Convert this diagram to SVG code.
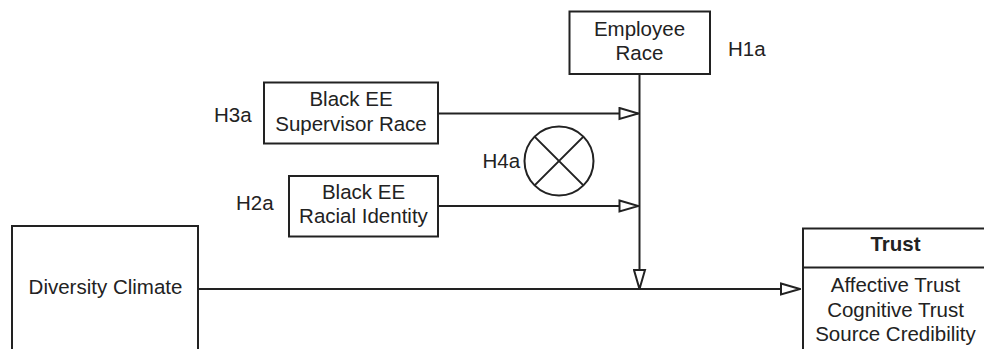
<svg xmlns="http://www.w3.org/2000/svg" width="984" height="349" viewBox="0 0 984 349">
  <style>
    .box { fill: #ffffff; stroke: #222222; stroke-width: 2; }
    .lbl { font-family: "Liberation Sans", Arial, sans-serif; font-size: 20.5px; fill: #222222; }
    .mid { text-anchor: middle; }
    .bold { font-weight: bold; }
    .edge { fill: none; stroke: #222222; stroke-width: 2; }
  </style>
  <defs>
    <marker id="openArrow" viewBox="0 0 22 14" refX="21" refY="7" markerWidth="22" markerHeight="14" markerUnits="userSpaceOnUse" orient="auto">
      <path d="M2,1.5 L21,7 L2,12.5 Z" fill="#ffffff" stroke="#222222" stroke-width="2" stroke-linejoin="miter"/>
    </marker>
  </defs>

  <!-- connectors -->
  <g id="connectors">
    <path class="edge" d="M198,289 L800,289" marker-end="url(#openArrow)"/>
    <path class="edge" d="M639.5,74 L639.5,289" marker-end="url(#openArrow)"/>
    <path class="edge" d="M438,113.5 L638.5,113.5" marker-end="url(#openArrow)"/>
    <path class="edge" d="M438,206 L638.5,206" marker-end="url(#openArrow)"/>
  </g>

  <!-- Employee Race -->
  <g id="employee-race">
    <rect class="box" x="569.5" y="11.5" width="140.5" height="62.5"/>
    <text class="lbl mid" x="639.5" y="36">Employee</text>
    <text class="lbl mid" x="639.5" y="59.5">Race</text>
    <text class="lbl" x="728" y="55.5">H1a</text>
  </g>

  <!-- Black EE Supervisor Race -->
  <g id="supervisor-race">
    <rect class="box" x="264" y="82.5" width="174" height="61"/>
    <text class="lbl mid" x="351" y="105.5">Black EE</text>
    <text class="lbl mid" x="351" y="130.5">Supervisor Race</text>
    <text class="lbl" x="214" y="121.7">H3a</text>
  </g>

  <!-- Black EE Racial Identity -->
  <g id="racial-identity">
    <rect class="box" x="289" y="176" width="149" height="60.5"/>
    <text class="lbl mid" x="363.5" y="198.5">Black EE</text>
    <text class="lbl mid" x="363.5" y="223">Racial Identity</text>
    <text class="lbl" x="236" y="210">H2a</text>
  </g>

  <!-- Interaction symbol -->
  <g id="interaction">
    <circle cx="559" cy="161" r="34.5" fill="none" stroke="#222222" stroke-width="2"/>
    <path class="edge" d="M534.6,136.6 L583.4,185.4 M583.4,136.6 L534.6,185.4"/>
    <text class="lbl" x="482.5" y="168.3">H4a</text>
  </g>

  <!-- Diversity Climate -->
  <g id="diversity-climate">
    <rect class="box" x="12" y="226" width="186" height="128"/>
    <text class="lbl mid" x="105.5" y="294">Diversity Climate</text>
  </g>

  <!-- Trust -->
  <g id="trust">
    <rect class="box" x="803" y="228.5" width="185" height="126"/>
    <line x1="803" y1="267.5" x2="988" y2="267.5" stroke="#222222" stroke-width="2"/>
    <text class="lbl mid bold" x="895.5" y="251">Trust</text>
    <text class="lbl mid" x="895.5" y="292.3">Affective Trust</text>
    <text class="lbl mid" x="895.5" y="316.7">Cognitive Trust</text>
    <text class="lbl mid" x="895.5" y="341">Source Credibility</text>
  </g>
</svg>
